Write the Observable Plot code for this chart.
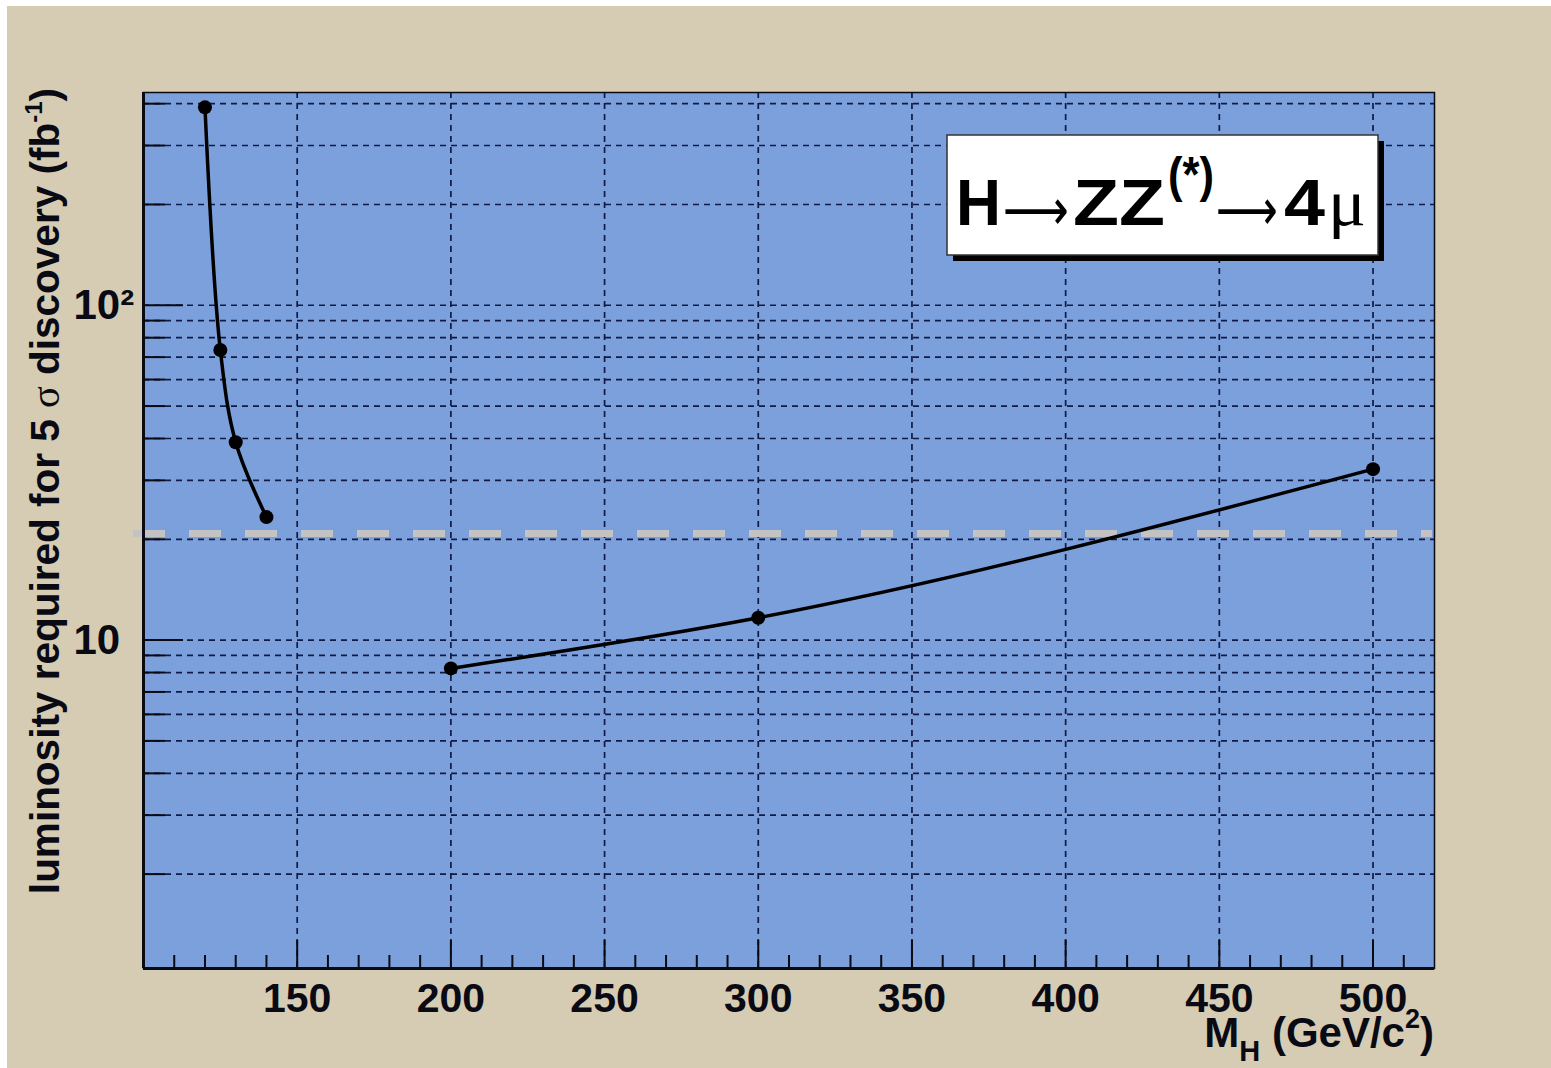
<!DOCTYPE html>
<html>
<head>
<meta charset="utf-8">
<script src="https://cdn.jsdelivr.net/npm/d3@7"></script>
<script src="https://cdn.jsdelivr.net/npm/@observablehq/plot@0.6"></script>
<style>
  body { margin: 0; background: #ffffff; }
  #chart { position: absolute; left: 0; top: 0; }
</style>
</head>
<body>
<div id="chart"></div>
<script>
// ---- data ----
const massLow = [120, 125, 130, 140];
const lumiLow = [390, 73.5, 39, 23.3];
const massHigh = [200, 300, 500];
const lumiHigh = [8.23, 11.66, 32.4];
const discoveryLumi = 20.8;

// ---- axes ----
const xDomain = [100, 520];
const yDomain = [1.045, 432];
const xLabelTicks = [150, 200, 250, 300, 350, 400, 450, 500];
const xMinorTicks = [110, 120, 130, 140, 160, 170, 180, 190, 210, 220, 230, 240, 260, 270, 280, 290,
                     310, 320, 330, 340, 360, 370, 380, 390, 410, 420, 430, 440, 460, 470, 480, 490, 510];
const yMajorTicks = [10, 100];
const yMinorTicks = [2, 3, 4, 5, 6, 7, 8, 9, 20, 30, 40, 50, 60, 70, 80, 90, 200, 300, 400];
const yTickLabels = ["10", "10²"];

const lowData = massLow.map((m, i) => ({mass: m, lumi: lumiLow[i]}));
const highData = massHigh.map((m, i) => ({mass: m, lumi: lumiHigh[i]}));
const allData = lowData.concat(highData);

const beige = "#d5ccb3";
const plotBlue = "#7ca0dc";
const gridColor = "#111a45";
const ink = "#0a0a14";
const font = "'Liberation Sans', Arial, Helvetica, sans-serif";

const W = 1551, H = 1068;
const mL = 143, mR = 117, mT = 92, mB = 100;

const plot = Plot.plot({
  width: W, height: H,
  marginLeft: mL, marginRight: mR, marginTop: mT, marginBottom: mB,
  style: {fontFamily: font, fontWeight: "bold", background: "transparent", overflow: "visible", color: ink},
  x: {domain: xDomain, label: null},
  y: {type: "log", domain: yDomain, label: null},
  marks: [
    Plot.frame({fill: plotBlue, stroke: null}),
    Plot.gridY(yMinorTicks.concat(yMajorTicks), {stroke: gridColor, strokeOpacity: 1, strokeWidth: 1.7, strokeDasharray: "6,5"}),
    Plot.gridX(xLabelTicks, {stroke: gridColor, strokeOpacity: 1, strokeWidth: 1.7, strokeDasharray: "6,5"}),
    Plot.ruleY([discoveryLumi], {stroke: "#c3c3c3", strokeWidth: 7, strokeDasharray: "32,24", insetLeft: -10, insetRight: 2}),
    Plot.line(lowData, {x: "mass", y: "lumi", curve: "catmull-rom", stroke: "black", strokeWidth: 3.5}),
    Plot.line(highData, {x: "mass", y: "lumi", curve: "monotone-x", stroke: "black", strokeWidth: 3.5}),
    Plot.dot(allData, {x: "mass", y: "lumi", r: 7, fill: "black"}),
    // ticks (drawn inward)
    Plot.axisX(xMinorTicks, {tickSize: -13, tickFormat: () => "", strokeWidth: 2, stroke: ink, label: null}),
    Plot.axisX(xLabelTicks, {tickSize: -28, tickFormat: () => "", strokeWidth: 2, stroke: ink, label: null}),
    Plot.axisX(xLabelTicks, {tickSize: 0, tickPadding: 14, fontSize: 41, fontWeight: "bold", fill: ink, label: null}),
    Plot.axisY(yMinorTicks, {tickSize: -22, tickFormat: () => "", strokeWidth: 2, stroke: ink, label: null}),
    Plot.axisY(yMajorTicks, {tickSize: -40, tickFormat: () => "", strokeWidth: 2, stroke: ink, label: null}),
    Plot.axisY(yMajorTicks, {tickSize: 0, tickPadding: 70, textAnchor: "start", fontSize: 42, fontWeight: "bold", fill: ink, label: null,
      tickFormat: d => yTickLabels[yMajorTicks.indexOf(d)]}),
    Plot.frame({stroke: ink, strokeWidth: 1.5}),
    Plot.ruleX([xDomain[0]], {stroke: ink, strokeWidth: 3}),
    Plot.ruleY([yDomain[0]], {stroke: ink, strokeWidth: 3})
  ]
});

document.getElementById("chart").appendChild(plot);

const svg = d3.select(plot);
// canvas background: white edge + beige pad
svg.insert("rect", ":first-child").attr("x", 7).attr("y", 6).attr("width", W - 7).attr("height", H - 6).attr("fill", beige);
svg.insert("rect", ":first-child").attr("x", 0).attr("y", 0).attr("width", W).attr("height", H).attr("fill", "#ffffff");

// y-axis title
const yt = svg.append("text")
  .attr("transform", `translate(59,88) rotate(-90)`)
  .attr("text-anchor", "end")
  .attr("font-family", font).attr("font-weight", "bold").attr("font-size", 40.5).attr("fill", ink);
yt.append("tspan").text("luminosity required for 5 ");
yt.append("tspan").attr("font-family", "'Liberation Serif', 'DejaVu Serif', serif").attr("font-weight", "normal").text("σ");
yt.append("tspan").text(" discovery (fb");
yt.append("tspan").attr("font-size", 24).attr("dy", -17).text("-1");
yt.append("tspan").attr("dy", 17).text(")");

// x-axis title
const xt = svg.append("text")
  .attr("x", 1434).attr("y", 1047)
  .attr("text-anchor", "end")
  .attr("font-family", font).attr("font-weight", "bold").attr("font-size", 42).attr("fill", ink);
xt.append("tspan").text("M");
xt.append("tspan").attr("font-size", 29).attr("dy", 14).text("H");
xt.append("tspan").attr("dy", -14).text(" (GeV/c");
xt.append("tspan").attr("font-size", 27).attr("dy", -19).text("2");
xt.append("tspan").attr("dy", 19).text(")");

// legend box
const box = svg.append("g").attr("text-anchor", "start");
box.append("rect").attr("x", 953).attr("y", 141).attr("width", 431).attr("height", 120).attr("fill", "#000");
box.append("rect").attr("x", 947).attr("y", 135).attr("width", 431).attr("height", 120).attr("fill", "#fff")
  .attr("stroke", "#333").attr("stroke-width", 1.5);
const lt = box.append("text").attr("y", 225).attr("text-anchor", "start")
  .attr("font-family", font).attr("font-weight", "bold").attr("font-size", 65).attr("fill", "#000");
lt.append("tspan").attr("x", 956).attr("y", 225).attr("textLength", 45).attr("lengthAdjust", "spacingAndGlyphs").text("H");
lt.append("tspan").attr("x", 1003).attr("y", 230).attr("font-family", "'DejaVu Sans', sans-serif").attr("font-weight", "normal").attr("font-size", 58)
  .attr("textLength", 66).attr("lengthAdjust", "spacingAndGlyphs").text("⟶");
lt.append("tspan").attr("x", 1073).attr("y", 225).attr("textLength", 92).attr("lengthAdjust", "spacingAndGlyphs").text("ZZ");
lt.append("tspan").attr("x", 1168).attr("y", 192).attr("font-size", 50).attr("textLength", 46).attr("lengthAdjust", "spacingAndGlyphs").text("(*)");
lt.append("tspan").attr("x", 1216).attr("y", 230).attr("font-family", "'DejaVu Sans', sans-serif").attr("font-weight", "normal").attr("font-size", 58)
  .attr("textLength", 62).attr("lengthAdjust", "spacingAndGlyphs").text("⟶");
lt.append("tspan").attr("x", 1284).attr("y", 225).attr("textLength", 41).attr("lengthAdjust", "spacingAndGlyphs").text("4");
lt.append("tspan").attr("x", 1328).attr("y", 225).attr("font-family", "'Liberation Serif', 'DejaVu Serif', serif").attr("font-weight", "normal")
  .attr("font-size", 66).attr("textLength", 38).attr("lengthAdjust", "spacingAndGlyphs").text("μ");
</script>
</body>
</html>
